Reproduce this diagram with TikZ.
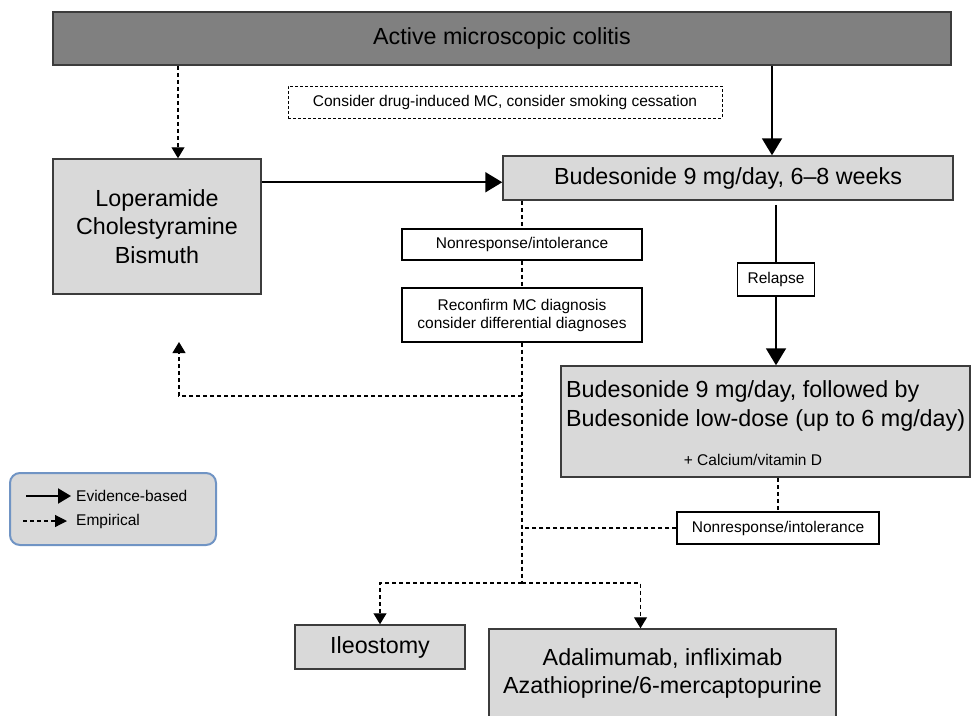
\documentclass[tikz,border=0pt]{standalone}
\usepackage{fontspec}
\setmainfont{Liberation Sans}
\usetikzlibrary{arrows.meta}

\definecolor{boxgray}{HTML}{D9D9D9}
\definecolor{topgray}{HTML}{808080}
\definecolor{edgegray}{HTML}{3C3C3C}
\definecolor{legblue}{HTML}{7094C4}

\tikzset{
  bigfont/.style={font=\fontsize{23.3}{28.5}\selectfont},
  smallfont/.style={font=\fontsize{15.5}{18}\selectfont},
  box/.style={draw=edgegray, line width=1.5pt, fill=boxgray, inner sep=0pt, align=center, bigfont},
  note/.style={draw=black, line width=1.1pt, fill=white, inner sep=0pt, align=center, smallfont},
  evid/.style={line width=2pt, -{Triangle[width=20pt,length=17pt]}},
  empir/.style={line width=1.2pt, dash pattern=on 4pt off 3pt, -{Triangle[width=13pt,length=11pt]}},
  empline/.style={line width=1.2pt, dash pattern=on 4pt off 3pt}
}

\begin{document}
\begin{tikzpicture}[x=1pt,y=-1pt]
		\useasboundingbox (0,0) rectangle (971,715);
		\clip (0,0) rectangle (971,715);
		
		% boxes
		\node[box, fill=topgray, minimum width=898pt, minimum height=53pt] (top) at (502,38.5) {Active microscopic colitis};
		\node[note, line width=0.9pt, dash pattern=on 3pt off 2pt, minimum width=434pt, minimum height=32pt] (consider) at (505,102) {Consider drug-induced MC, consider smoking cessation};
		\node[box, minimum width=208pt, minimum height=135pt] (lop) at (157,226.5) {Loperamide\\Cholestyramine\\Bismuth};
		\node[box, minimum width=450pt, minimum height=44pt] (bud) at (728,178) {Budesonide 9 mg/day, 6--8 weeks};
		\node[note, minimum width=240pt, minimum height=31pt] (nonresp) at (522,244.5) {Nonresponse/intolerance};
		\node[note, minimum width=240pt, minimum height=54pt] (reconf) at (522,315) {Reconfirm MC diagnosis\\consider differential diagnoses};
		\node[note, minimum width=77pt, minimum height=33pt] (relapse) at (776,279.5) {Relapse};
		\node[box, minimum width=409pt, minimum height=111pt] (budlow) at (765.5,421.5) {};
		\node[bigfont, anchor=west, align=left, inner sep=0pt] (budlowtxt) at (566,406) {Budesonide 9 mg/day, followed by\\Budesonide low-dose (up to 6 mg/day)};
		\node[smallfont, inner sep=0pt] (calcium) at (753,460) {+ Calcium/vitamin D};
		\node[note, minimum width=202pt, minimum height=32pt] (nonresp2) at (778,528) {Nonresponse/intolerance};
		\node[box, minimum width=170pt, minimum height=44pt] (ileo) at (380,647) {Ileostomy};
		\node[box, minimum width=347pt, minimum height=89pt] (adal) at (662.5,673.5) {Adalimumab, infliximab\\Azathioprine/6-mercaptopurine};
		
		% legend
		\node[draw=legblue, line width=2pt, fill=boxgray, rounded corners=10pt, minimum width=206pt, minimum height=72pt] (legend) at (113,509) {};
		\coordinate (evA) at (26,496);
		\coordinate (evB) at (71,496);
		\coordinate (emA) at (23,521);
		\coordinate (emB) at (67,521);
		\draw[line width=2pt, -{Triangle[width=15pt,length=13pt]}] (evA) -- (evB);
		\draw[empline, -{Triangle[width=12pt,length=12pt]}] (emA) -- (emB);
		\node[smallfont, anchor=west, inner sep=0pt] (evlabel) at (76,496) {Evidence-based};
		\node[smallfont, anchor=west, inner sep=0pt] (emlabel) at (76,521) {Empirical};
		
		% connectors
		\coordinate (lopin) at ([xshift=21pt]lop.north);
		\coordinate (budin) at ([xshift=44pt]bud.north);
		\coordinate (lopout) at ([yshift=-24pt]lop.north east);
		\draw[empir] (lopin |- top.south) -- (lopin);
		\draw[evid] (budin |- top.south) -- (budin);
		\draw[evid] (lopout) -- (lopout -| bud.west);
		
		\coordinate (back) at (522,396);
		\coordinate (backtip) at (179,342);
		\coordinate (join) at (522,528);
		\coordinate (split) at (522,583);
		\draw[empline] (nonresp.north |- bud.south) -- (nonresp.north);
		\draw[empline] (nonresp.south) -- (reconf.north);
		\draw[empline] (reconf.south) -- (split);
		\draw[empir] (back) -| (backtip);
		\draw[empline] (nonresp2.north |- budlow.south) -- (nonresp2.north);
		\draw[empline] (nonresp2.west) -- (join);
		\draw[empir] (split) -| (ileo.north);
		\draw[empir] (split) -| ([xshift=-22pt]adal.north);
		
		\draw[line width=2pt, shorten <=4pt] (relapse.north |- bud.south) -- (relapse.north);
		\draw[evid] (relapse.south) -- (relapse.south |- budlow.north);
\end{tikzpicture}
\end{document}
